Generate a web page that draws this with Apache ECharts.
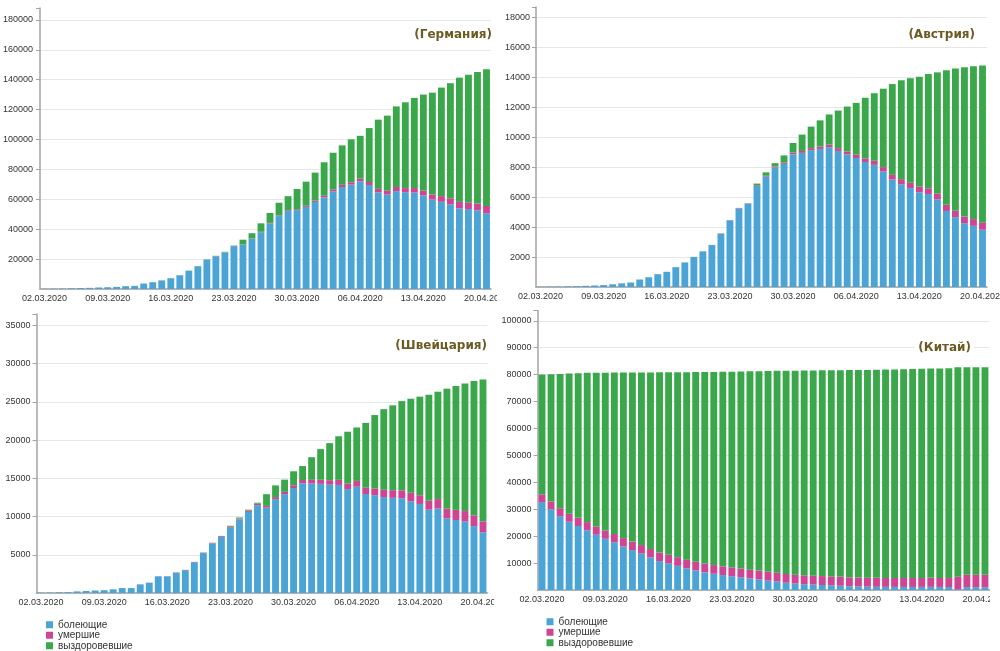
<!DOCTYPE html>
<html><head><meta charset="utf-8">
<script src="https://cdn.jsdelivr.net/npm/echarts/dist/echarts.min.js"></script>
<style>
html,body{margin:0;padding:0;background:#fff;width:1000px;height:651px;overflow:hidden}
.p{position:absolute;overflow:hidden}
</style></head><body>
<div id="de" class="p" style="left:0;top:0;width:497px;height:310px"></div>
<div id="at" class="p" style="left:500px;top:0;width:500px;height:310px"></div>
<div id="ch" class="p" style="left:0;top:310px;width:494px;height:341px"></div>
<div id="cn" class="p" style="left:500px;top:310px;width:490px;height:341px"></div>
<script>
const dates = ['02.03.2020','03.03.2020','04.03.2020','05.03.2020','06.03.2020','07.03.2020','08.03.2020','09.03.2020','10.03.2020','11.03.2020','12.03.2020','13.03.2020','14.03.2020','15.03.2020','16.03.2020','17.03.2020','18.03.2020','19.03.2020','20.03.2020','21.03.2020','22.03.2020','23.03.2020','24.03.2020','25.03.2020','26.03.2020','27.03.2020','28.03.2020','29.03.2020','30.03.2020','31.03.2020','01.04.2020','02.04.2020','03.04.2020','04.04.2020','05.04.2020','06.04.2020','07.04.2020','08.04.2020','09.04.2020','10.04.2020','11.04.2020','12.04.2020','13.04.2020','14.04.2020','15.04.2020','16.04.2020','17.04.2020','18.04.2020','19.04.2020','20.04.2020'];
const seriesNames = ['болеющие','умершие','выздоровевшие'];

// Германия
const deSick = [143,180,246,466,653,781,1022,1156,1437,1880,2050,3622,4530,5738,7188,9166,12194,15163,19601,21896,24513,28667,29586,33570,37998,43871,48781,52351,52740,54933,58252,61247,65309,68248,69839,71990,69566,64647,63167,65491,64772,64532,62578,59865,58349,56646,53931,53483,52598,50703];
const deDead = [0,0,0,0,0,0,0,2,2,3,3,7,9,11,17,24,28,44,67,84,94,123,157,206,267,342,433,533,645,775,920,1107,1275,1444,1584,1810,2016,2349,2607,2767,2736,3022,3194,3294,3804,4052,4352,4459,4586,4862];
const deRec = [16,16,16,16,17,18,18,18,18,25,25,46,46,46,67,67,105,113,180,233,266,266,3243,3547,5673,6658,8481,9211,13500,16100,18700,22440,24575,26400,28700,28700,36081,46300,50226,53913,57400,60300,64300,68200,72600,77000,83114,85400,88000,91500];

// Австрия
const atSick = [18,21,29,41,55,79,102,129,178,242,297,497,648,853,1009,1320,1633,1998,2373,2797,3557,4444,5246,5549,6748,7374,7978,8223,8874,8957,9129,9222,9334,9088,8849,8614,8350,8157,7709,7172,6865,6608,6330,6209,5845,5080,4664,4264,4083,3824];
const atDead = [0,0,0,0,0,0,0,0,0,0,1,1,1,1,3,3,4,6,6,8,16,21,28,30,49,58,68,86,108,128,146,158,168,186,204,220,243,273,295,319,337,350,368,384,393,410,431,443,452,470];
const atRec = [0,0,0,0,0,0,2,2,4,4,4,6,6,6,6,9,9,9,9,9,9,9,9,9,112,225,225,479,636,1095,1436,1749,2022,2507,2998,3463,4046,4512,5240,6064,6604,6987,7343,7633,8098,8986,9500,9964,10214,10501];

// Швейцария
const chSick = [42,56,90,110,210,264,331,368,484,644,644,1124,1342,2182,2182,2669,2996,4030,5225,6485,7361,8544,9624,10613,11489,11167,12282,12934,13740,14349,14313,14278,14169,14136,13600,13900,12950,12800,12550,12450,12400,12000,11650,10900,11050,9750,9550,9350,8750,7950];
const chDead = [0,0,0,1,1,1,2,2,3,4,4,11,13,14,14,27,28,41,54,75,98,120,122,153,191,231,264,300,359,433,488,536,591,666,715,765,821,895,948,1002,1036,1106,1138,1174,1239,1281,1327,1368,1393,1429];
const chRec = [0,0,0,3,3,3,4,4,4,4,4,4,4,4,4,4,4,4,15,15,15,131,131,131,131,1530,1530,1595,1823,1823,2967,4013,4846,5703,6785,6992,8482,9585,10553,11099,11671,12309,12900,13862,14047,15701,16201,16686,17597,18565];

// Китай
const cnSick = [32652,30004,27433,25352,23784,22177,20533,19016,17721,16145,14831,13526,12094,10734,9898,8976,8056,7263,6569,6013,5549,5120,4735,4287,3947,3460,3128,2691,2396,2161,2004,1863,1727,1562,1376,1299,1242,1190,1160,1156,1141,1138,1156,1170,1137,1089,300,1058,1044,1034];
const cnDead = [2870,2912,2945,2981,3013,3042,3070,3097,3119,3136,3158,3169,3176,3189,3199,3213,3226,3237,3245,3248,3255,3261,3270,3277,3281,3287,3292,3295,3300,3304,3305,3312,3318,3322,3326,3329,3331,3333,3335,3336,3339,3339,3341,3341,3342,3342,4632,4632,4632,4632];
const cnRec = [44504,47235,49892,52076,53755,55432,57092,58622,59914,61497,62804,64118,65554,66921,67763,68692,69612,70428,71153,71747,72250,72712,73166,73654,74057,74593,74974,75453,75774,76053,76245,76414,76575,76755,76967,77080,77167,77279,77370,77415,77473,77575,77663,77738,77816,77910,77760,77029,77059,77081];

const COLORS = ['#4aa4d6','#cf4593','#3aa84a'];
const AXIS = '#a3a3a3';
const FONT = 'Liberation Sans, Arial, sans-serif';

function build(id, o) {
  const chart = echarts.init(document.getElementById(id), null, {renderer: 'canvas'});
  const data = [o.sick, o.dead, o.rec];
  const series = seriesNames.map((n, i) => ({
    type: 'bar', stack: 'total', name: n, data: data[i],
    barCategoryGap: '24%',
    itemStyle: {color: COLORS[i]},
    emphasis: {disabled: true}
  }));
  chart.setOption({
    animation: false,
    color: COLORS,
    title: {
      text: o.title, right: o.tRight, top: o.tTop,
      padding: o.tPad || 0, backgroundColor: o.tBg || 'transparent',
      textStyle: {fontFamily: 'DejaVu Sans, Verdana, sans-serif', fontWeight: 'bold', fontSize: 12, color: '#6b5a22'}
    },
    legend: o.legend ? {
      show: true, orient: 'vertical', left: o.lLeft, top: o.lTop, padding: 0,
      itemWidth: 7, itemHeight: 7, itemGap: 0, icon: 'rect',
      textStyle: {fontFamily: FONT, fontSize: 10, lineHeight: 10.5, color: '#333'},
      selectedMode: false
    } : {show: false},
    grid: {left: o.left, top: o.top, width: o.width, height: o.height, containLabel: false, outerBoundsMode: 'none'},
    xAxis: {
      type: 'category', data: dates,
      axisLine: {lineStyle: {color: AXIS, width: 1.5}},
      axisTick: {alignWithLabel: true, interval: 6, length: 3, lineStyle: {color: AXIS}},
      axisLabel: {interval: 6, fontSize: 9, color: '#333', fontFamily: FONT, margin: 5, hideOverlap: false}
    },
    yAxis: {
      type: 'value', min: 0, max: o.max, interval: o.interval,
      axisLine: {show: true, lineStyle: {color: AXIS, width: 1.5}},
      axisTick: {show: true, length: 4, lineStyle: {color: AXIS}},
      axisLabel: {
        fontSize: 9, color: '#333', fontFamily: FONT, margin: o.lm || 6,
        showMinLabel: false,
        formatter: v => (v % o.interval === 0 ? String(v) : '')
      },
      splitLine: {showMaxLine: false, lineStyle: {color: '#e6e6e6'}}
    },
    series: series
  });
}

build('de', {sick: deSick, dead: deDead, rec: deRec, title: '(Германия)', tRight: 5, tTop: 28.5,
  left: 40, top: 8, width: 451, height: 281, max: 188000, interval: 20000, lm: 7});
build('at', {sick: atSick, dead: atDead, rec: atRec, title: '(Австрия)', tRight: 25, tTop: 28.5,
  left: 36, top: 7, width: 451, height: 280, max: 18700, interval: 2000});
build('ch', {sick: chSick, dead: chDead, rec: chRec, title: '(Швейцария)', tRight: 7, tTop: 29.5,
  left: 36.5, top: 4, width: 451, height: 279, max: 36500, interval: 5000,
  legend: true, lLeft: 46, lTop: 309.5});
build('cn', {sick: cnSick, dead: cnDead, rec: cnRec, title: '(Китай)', tRight: 16, tTop: 30.5,
  tPad: [1, 3], tBg: '#ffffff',
  left: 37.5, top: 0, width: 452, height: 280, max: 104000, interval: 10000,
  legend: true, lLeft: 46.5, lTop: 306.5});
</script>
</body></html>
